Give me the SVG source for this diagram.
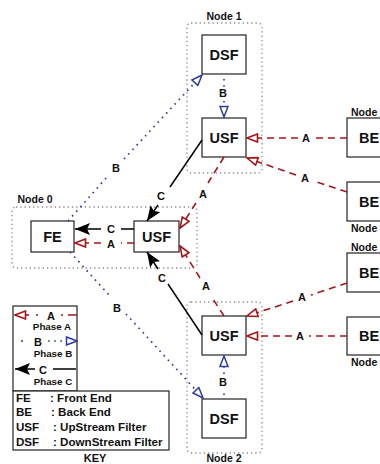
<svg xmlns="http://www.w3.org/2000/svg" width="380" height="464" viewBox="0 0 380 464">
<style>
text{font-family:"Liberation Sans",Arial,sans-serif;font-weight:bold;fill:#111}
.box{fill:#fff;stroke:#222;stroke-width:1.2}
.grp{fill:none;stroke:#8a8a8a;stroke-width:1.3;stroke-dasharray:1.3 3}
.nt{font-size:14.5px;text-anchor:middle}
.gl{font-size:10.5px;text-anchor:middle}
.el{font-size:11px;text-anchor:middle}
.red{fill:none;stroke:#a4161a;stroke-width:1.6;stroke-dasharray:7 5}
.blue{fill:none;stroke:#2d3c9e;stroke-width:1.7;stroke-dasharray:1.6 4.6}
.blk{fill:none;stroke:#000;stroke-width:1.5}
.key{font-size:11.6px}
.ph{font-size:9.8px;text-anchor:middle}
</style>
<defs>
<marker id="mR" viewBox="0 0 13 10" markerWidth="13" markerHeight="10" refX="12" refY="5" orient="auto" markerUnits="userSpaceOnUse"><path d="M1.5,1 L12,5 L1.5,9 z" fill="#fff" stroke="#a4161a" stroke-width="1.6" stroke-dasharray="none"/></marker>
<marker id="mB" viewBox="0 0 13 10" markerWidth="13" markerHeight="10" refX="12" refY="5" orient="auto" markerUnits="userSpaceOnUse"><path d="M1.5,1 L12,5 L1.5,9 z" fill="#fff" stroke="#2d3c9e" stroke-width="1.5" stroke-dasharray="none"/></marker>
<marker id="mC" viewBox="0 0 15 12" markerWidth="15" markerHeight="12" refX="15" refY="6" orient="auto" markerUnits="userSpaceOnUse"><path d="M0,0 L15,6 L0,12 L3,6 z" fill="#000"/></marker>
</defs>

<g id="node0">
<rect class="grp" x="12" y="207" width="185" height="61" rx="4"/>
<text class="gl" x="35" y="203">Node 0</text>
<g id="fe"><rect class="box" x="31" y="221" width="43" height="31"/><text class="nt" x="52.5" y="241.5">FE</text></g>
<g id="usf0"><rect class="box" x="134" y="221" width="45" height="31"/><text class="nt" x="156.5" y="241.5">USF</text></g>
</g>

<g id="node1">
<rect class="grp" x="187" y="23" width="75" height="150" rx="4"/>
<text class="gl" x="224" y="20">Node 1</text>
<g id="dsf1"><rect class="box" x="202" y="35" width="44" height="39"/><text class="nt" x="224" y="59.5">DSF</text></g>
<g id="usf1"><rect class="box" x="202" y="118" width="44" height="39"/><text class="nt" x="224" y="142.5">USF</text></g>
</g>

<g id="node2">
<rect class="grp" x="187" y="302" width="75" height="151" rx="4"/>
<text class="gl" x="224" y="462">Node 2</text>
<g id="usf2"><rect class="box" x="202" y="316" width="44" height="39"/><text class="nt" x="224" y="340.5">USF</text></g>
<g id="dsf2"><rect class="box" x="202" y="399" width="44" height="39"/><text class="nt" x="224" y="423.5">DSF</text></g>
</g>

<g id="be1"><rect class="box" x="347" y="118" width="44" height="39"/><text class="nt" x="369" y="142.5">BE</text><text class="gl" x="351" y="116" style="text-anchor:start">Node</text></g>
<g id="be2"><rect class="box" x="347" y="182" width="44" height="39"/><text class="nt" x="369" y="206.5">BE</text><text class="gl" x="351" y="232" style="text-anchor:start">Node</text></g>
<g id="be3"><rect class="box" x="347" y="253" width="44" height="39"/><text class="nt" x="369" y="277.5">BE</text><text class="gl" x="351" y="250.5" style="text-anchor:start">Node</text></g>
<g id="be4"><rect class="box" x="347" y="317" width="44" height="38"/><text class="nt" x="369" y="341">BE</text><text class="gl" x="351" y="366" style="text-anchor:start">Node</text></g>

<g id="connectors">
<path class="blue" d="M68,221 L107,177 M124,159 L202,75" marker-end="url(#mB)"/>
<text class="el" x="116" y="171.5">B</text>
<path class="blue" d="M70,252 L109,295 M126,314 L203,398" marker-end="url(#mB)"/>
<text class="el" x="117" y="312">B</text>
<path class="blue" d="M224,79 L224,87 M224,101 L224,117" marker-end="url(#mB)"/>
<text class="el" x="223" y="97">B</text>
<path class="blue" d="M224,395 L224,389 M224,374 L224,356" marker-end="url(#mB)"/>
<text class="el" x="223" y="386">B</text>

<path class="blk" d="M202,140 L170,187 M158,205 L147,221" marker-end="url(#mC)"/>
<text class="el" x="161" y="200">C</text>
<path class="blk" d="M202,335 L168,284 M158,269 L147,252" marker-end="url(#mC)"/>
<text class="el" x="162" y="282">C</text>
<path class="blk" d="M134,229 L121,229 M101,229 L75,229" marker-end="url(#mC)"/>
<text class="el" x="111" y="233">C</text>

<path class="red" d="M134,243 L121,243 M101,243 L75,243" marker-end="url(#mR)"/>
<text class="el" x="111" y="247.5">A</text>
<path class="red" d="M224,157 L208,183 M196,203 L180,228" marker-end="url(#mR)"/>
<text class="el" x="203" y="198">A</text>
<path class="red" d="M224,316 L211,296 M200,278 L180,246" marker-end="url(#mR)"/>
<text class="el" x="206" y="290">A</text>
<path class="red" d="M347,138 L314,138 M298,138 L247,138" marker-end="url(#mR)"/>
<text class="el" x="306" y="142">A</text>
<path class="red" d="M347,192 L314,181 M296,175 L247,158" marker-end="url(#mR)"/>
<text class="el" x="305" y="182">A</text>
<path class="red" d="M347,283 L311,295 M293,301 L247,316" marker-end="url(#mR)"/>
<text class="el" x="302" y="301">A</text>
<path class="red" d="M347,336 L309,336 M292,336 L247,336" marker-end="url(#mR)"/>
<text class="el" x="300" y="340">A</text>
</g>

<g id="key">
<rect x="13" y="306" width="64" height="85" fill="#fff" stroke="#222" stroke-width="1.2"/>
<rect x="13" y="391" width="156" height="59" fill="#fff" stroke="#222" stroke-width="1.2"/>
<path class="red" d="M29,315 L15,315" marker-end="url(#mR)" style="stroke-dasharray:none"/>
<path class="red" d="M36,315 L38,315 M61,315 L63,315 M68,315 L77,315" style="stroke-dasharray:none"/>
<text class="el" x="51" y="319.5">A</text>
<text class="ph" x="52" y="329.5">Phase A</text>
<path class="blue" d="M21,341 L23,341" style="stroke-dasharray:none"/>
<path class="blue" d="M48,341 L77,341" marker-end="url(#mB)"/>
<text class="el" x="38" y="345.5">B</text>
<text class="ph" x="53" y="357">Phase B</text>
<path class="blk" d="M35,369 L15,369" marker-end="url(#mC)"/>
<path class="blk" d="M53,369 L76,369"/>
<text class="el" x="43" y="373.5">C</text>
<text class="ph" x="53" y="385">Phase C</text>
<text class="key" x="16" y="402">FE</text><text class="key" x="50" y="402">: Front End</text>
<text class="key" x="16" y="416">BE</text><text class="key" x="51" y="416">: Back End</text>
<text class="key" x="16" y="431">USF</text><text class="key" x="53" y="431">: UpStream Filter</text>
<text class="key" x="16" y="446">DSF</text><text class="key" x="53" y="446">: DownStream Filter</text>
<text class="gl" x="95" y="462" style="font-size:11px">KEY</text>
</g>
</svg>
